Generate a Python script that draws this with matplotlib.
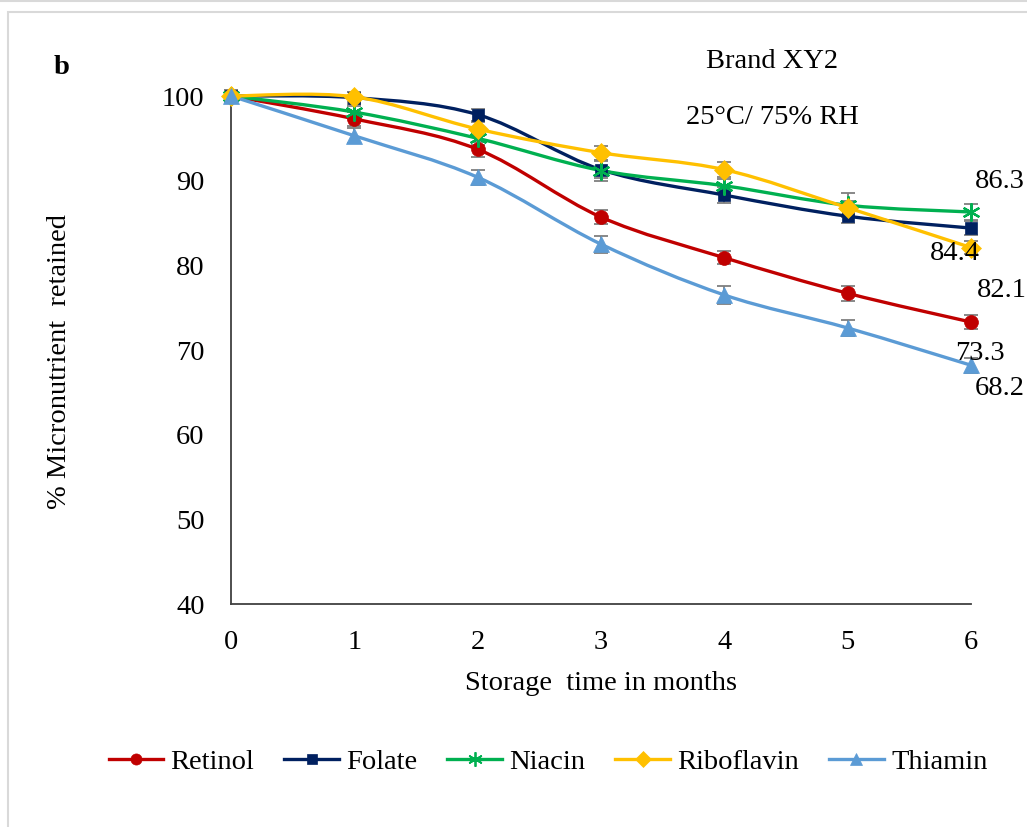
import numpy as np
import matplotlib
matplotlib.use("Agg")
import matplotlib.pyplot as plt
from matplotlib.path import Path
from matplotlib.patches import PathPatch, Rectangle
from matplotlib.lines import Line2D

plt.rcParams['font.family'] = ['Liberation Serif', 'DejaVu Serif']

months = [0, 1, 2, 3, 4, 5, 6]
series_names = ["Retinol", "Folate", "Niacin", "Riboflavin", "Thiamin"]
retinol = [100, 97.3, 93.7, 85.7, 80.9, 76.7, 73.3]
folate = [100, 99.8, 97.8, 91.3, 88.3, 85.8, 84.4]
niacin = [100, 98.1, 95.0, 91.2, 89.4, 87.1, 86.3]
riboflavin = [100, 99.9, 96.1, 93.3, 91.3, 86.8, 82.1]
thiamin = [100, 95.3, 90.4, 82.5, 76.5, 72.6, 68.2]
retinol_err = [0.7, 0.8, 0.9, 0.8, 0.8, 0.9, 0.8]
folate_err = [0.7, 0.7, 0.7, 1.0, 0.9, 0.8, 0.8]
niacin_err = [0.6, 0.7, 0.8, 1.2, 0.8, 1.4, 1.0]
riboflavin_err = [0.6, 0.6, 0.8, 0.8, 0.9, 0.8, 0.8]
thiamin_err = [0.6, 0.9, 0.9, 1.0, 1.1, 0.9, 0.9]

values = [retinol, folate, niacin, riboflavin, thiamin]
errors = [retinol_err, folate_err, niacin_err, riboflavin_err, thiamin_err]
colors = ["#C00000", "#002060", "#00B050", "#FFC000", "#5B9BD5"]
markers = ["o", "s", (6, 2, 0), "D", "^"]
msizes = [10, 9, 13, 10, 11]
# label offsets in pixels from the last point
label_offsets = [(9, -31), (-16, -25), (29, 30), (31, -43), (29, -23)]

FS = 20.5


def smooth_path(x, y):
    pts = np.column_stack([x, y]).astype(float)
    n = len(pts)
    verts = [pts[0]]
    codes = [Path.MOVETO]
    for i in range(n - 1):
        p0 = pts[i - 1] if i > 0 else pts[i]
        p1 = pts[i]
        p2 = pts[i + 1]
        p3 = pts[i + 2] if i + 2 < n else pts[i + 1]
        c1 = p1 + (p2 - p0) / 6.0
        c2 = p2 - (p3 - p1) / 6.0
        verts += [c1, c2, p2]
        codes += [Path.CURVE4] * 3
    return Path(verts, codes)


fig = plt.figure(figsize=(10.27, 8.27), dpi=100)
ax = fig.add_axes([231 / 1027, 1 - 604 / 827, (971 - 231) / 1027, (604 - 96) / 827])

# figure frame
fig.add_artist(Line2D([0, 1], [1 - 1 / 827, 1 - 1 / 827], transform=fig.transFigure,
                      color="#d9d9d9", lw=1.5))
fig.add_artist(Rectangle((8 / 1027, -0.01), 1.1, 1 - 12 / 827 + 0.01, transform=fig.transFigure,
                         fill=False, edgecolor="#d9d9d9", lw=1.5))

for name, y, e, c, m, ms in zip(series_names, values, errors, colors, markers, msizes):
    ax.errorbar(months, y, yerr=e, fmt="none", ecolor="#7f7f7f", elinewidth=1.3,
                capsize=5, capthick=1.3, zorder=2, clip_on=False)
    patch = PathPatch(smooth_path(months, y), facecolor="none", edgecolor=c, lw=2.4,
                      zorder=3, clip_on=False)
    ax.add_patch(patch)
    mew = 1.6 if m == (6, 2, 0) else 0.5
    ax.plot(months, y, linestyle="none", marker=m, ms=ms, color=c, mec=c, mew=mew,
            zorder=4, clip_on=False)

for y, off in zip(values, label_offsets):
    ax.annotate(f"{y[-1]:.1f}", xy=(months[-1], y[-1]), xytext=off,
                textcoords="offset pixels", ha="center", va="center", fontsize=FS,
                annotation_clip=False, zorder=6)

ax.set_xlim(0, 6)
ax.set_ylim(40, 100)
ax.set_xticks(months)
ax.set_yticks([40, 50, 60, 70, 80, 90, 100])
ax.tick_params(axis="both", length=0, labelsize=FS)
ax.tick_params(axis="y", pad=19)
ax.tick_params(axis="x", pad=19)
for s in ["top", "right"]:
    ax.spines[s].set_visible(False)
for s in ["left", "bottom"]:
    ax.spines[s].set_color("#404040")
    ax.spines[s].set_linewidth(1.3)

fig.text(601 / 1027, 1 - 684 / 827, "Storage  time in months", ha="center", va="center", fontsize=FS)
fig.text(60 / 1027, 1 - 362 / 827, "% Micronutrient  retained", ha="center", va="center",
         rotation=90, fontsize=FS)
fig.text(772 / 1027, 1 - 62 / 827, "Brand XY2", ha="center", va="center", fontsize=FS)
fig.text(772 / 1027, 1 - 117 / 827, "25\u00b0C/ 75% RH", ha="center", va="center", fontsize=FS)
fig.text(62 / 1027, 1 - 67 / 827, "b", ha="center", va="center", fontsize=FS, fontweight="bold")

handles = [Line2D([0], [0], color=c, lw=2.4, marker=m, ms=ms * 0.8, mec=c,
                  mew=(1.3 if m == (6, 2, 0) else 0.5))
           for c, m, ms in zip(colors, markers, msizes)]
fig.legend(handles, series_names, loc="center", bbox_to_anchor=(548 / 1027, 1 - 762 / 827),
           ncol=5, frameon=False, fontsize=FS, handlelength=1.93, columnspacing=1.05,
           handletextpad=0.25)

fig.savefig("out.png", dpi=100)
